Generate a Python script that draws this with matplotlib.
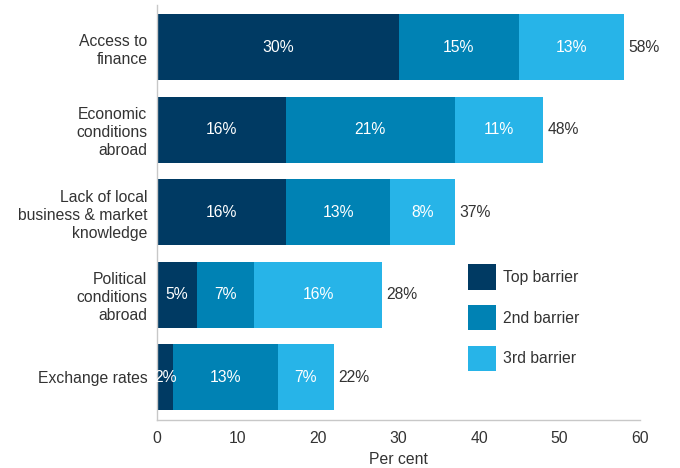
#!/usr/bin/env python3
"""Stacked horizontal bars: barriers to exporting."""

import matplotlib
matplotlib.use("Agg")
from matplotlib import pyplot as plt
from matplotlib.patches import Patch

categories = [
    "Access to\nfinance",
    "Economic\nconditions\nabroad",
    "Lack of local\nbusiness & market\nknowledge",
    "Political\nconditions\nabroad",
    "Exchange rates",
]
top_barrier = [30, 16, 16, 5, 2]
second_barrier = [15, 21, 13, 7, 13]
third_barrier = [13, 11, 8, 16, 7]
totals = [58, 48, 37, 28, 22]
series_names = ["Top barrier", "2nd barrier", "3rd barrier"]

COLORS = ["#003a63", "#0082b4", "#27b4e8"]
TEXT = "#333333"
FS = 11.3

plt.rcParams["font.family"] = ["Liberation Sans", "DejaVu Sans"]


def main() -> None:
    fig = plt.figure(figsize=(6.8, 4.68), dpi=100)
    ax = fig.add_axes([0.2309, 0.1026, 0.7103, 0.8867])

    y = list(range(len(categories)))
    left = [0] * len(categories)
    for vals, color, name in zip([top_barrier, second_barrier, third_barrier], COLORS, series_names):
        ax.barh(y, vals, left=left, height=0.8, color=color, label=name)
        for i, v in enumerate(vals):
            ax.text(left[i] + v / 2, i, f"{v}%", ha="center", va="center",
                    color="white", fontsize=FS)
        left = [a + b for a, b in zip(left, vals)]

    for i, t in enumerate(totals):
        ax.text(t + 0.5, i, f"{t}%", ha="left", va="center", color=TEXT, fontsize=FS)

    ax.set_ylim(4.52, -0.51)
    ax.set_xlim(0, 60)
    ax.set_yticks(y)
    ax.set_yticklabels(categories, fontsize=FS, color=TEXT, linespacing=1.25)
    ax.set_xticks([0, 10, 20, 30, 40, 50, 60])
    ax.tick_params(axis="both", length=0, colors=TEXT, labelsize=FS)
    ax.tick_params(axis="y", pad=7)
    ax.tick_params(axis="x", pad=8)
    ax.set_xlabel("Per cent", fontsize=FS, color=TEXT, labelpad=4)

    for side in ("top", "right"):
        ax.spines[side].set_visible(False)
    for side in ("left", "bottom"):
        ax.spines[side].set_color("#c8c8c8")
        ax.spines[side].set_linewidth(1.0)

    handles = [Patch(facecolor=c, edgecolor="none") for c in COLORS]
    ax.legend(handles, series_names, loc="upper left", bbox_to_anchor=(0.688, 0.435),
              bbox_transform=fig.transFigure, frameon=False, fontsize=FS,
              handlelength=1.78, handleheight=2.1, labelspacing=0.98,
              handletextpad=0.45, borderpad=0, borderaxespad=0, labelcolor=TEXT)

    fig.savefig("out.png", dpi=100)


if __name__ == "__main__":
    main()
